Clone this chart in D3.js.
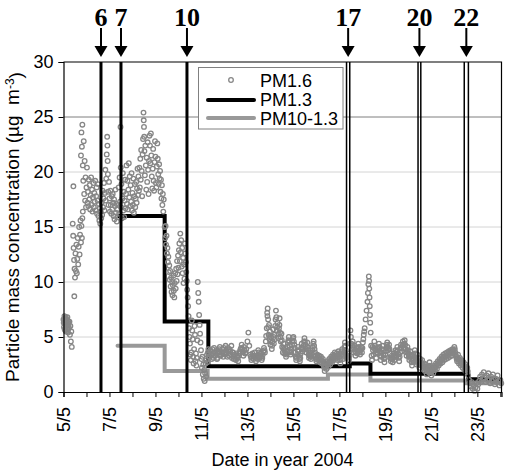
<!DOCTYPE html>
<html><head><meta charset="utf-8">
<script src="https://cdn.jsdelivr.net/npm/d3@7"></script>
<style>body{margin:0;background:#fff}svg{display:block}text{font-family:"Liberation Sans",Arial,sans-serif;fill:#000}</style>
</head><body><svg id="c" width="506" height="473"></svg>
<script>
// ---- data ----
const yTicks = [0,5,10,15,20,25,30];
const xMinorTicks = [5,6,7,8,9,10,11,12,13,14,15,16,17,18,19,20,21,22,23,24];
const xTickDays = [5,7,9,11,13,15,17,19,21,23];
const xTickLabels = ["5/5","7/5","9/5","11/5","13/5","15/5","17/5","19/5","21/5","23/5"];
const eventLabels = ["6","7","10","17","20","22"];
const eventDays = [[6.63],[7.50],[10.37],[17.31,17.45],[20.42,20.54],[22.43,22.61]];
const pm13Days = [7.35,9.40,11.30,17.45,18.35,22.60,24.05];
const pm13Vals = [16,6.4,2.35,2.6,1.65,1.15,1.15];
const pm101Days = [7.35,9.40,11.27,16.50,18.35,22.55,24.05];
const pm101Vals = [4.2,1.9,1.2,1.6,1.05,0.8,0.8];
const pm16 = [
[5.00,6.6],[5.02,5.9],[5.04,6.9],[5.06,6.2],[5.08,5.6],[5.10,6.8],[5.12,6.0],[5.14,6.5],[5.16,5.7],[5.18,6.3],[5.20,5.4],[5.22,6.1],[5.24,5.8],[5.26,6.4],[5.28,5.2],[5.30,6.0],[5.32,4.6],[5.34,5.5],[5.36,4.1],
[5.01,6.3],[5.03,6.5],[5.05,5.7],[5.07,6.7],[5.09,6.1],[5.11,5.5],[5.13,6.6],[5.15,6.0],[5.17,6.8],[5.19,5.9],[5.21,6.4],
[5.40,15.3],[5.42,14.2],[5.43,18.7],[5.44,13.1],[5.46,12.0],[5.47,8.7],[5.48,11.2],[5.50,10.4],[5.52,12.6],[5.54,11.0],[5.56,13.4],[5.58,10.8],[5.60,12.1],[5.62,14.0],[5.64,11.6],[5.66,13.2],[5.68,15.0],[5.70,12.5],[5.72,14.3],[5.74,15.6],[5.76,13.6],[5.78,15.1],[5.80,14.0],[5.82,15.8],[5.84,16.4],
[5.76,21.5],[5.78,23.6],[5.80,22.3],[5.82,24.3],[5.84,20.6],[5.86,19.2],[5.88,22.8],[5.90,18.0],[5.92,21.0],[5.94,17.4],[5.96,19.5],[5.98,16.8],[6.00,18.6],[6.02,20.4],[6.04,17.2],
[6.06,18.2],[6.08,16.9],[6.10,19.3],[6.12,17.5],[6.14,18.8],[6.16,16.6],[6.18,17.9],[6.20,19.5],[6.22,17.0],[6.24,18.4],[6.26,16.4],[6.28,17.7],[6.30,19.0],[6.32,16.8],[6.34,18.1],[6.36,17.3],[6.38,19.2],[6.40,16.5],[6.42,17.8],[6.44,18.6],[6.46,16.2],[6.48,17.4],[6.50,18.9],[6.52,16.0],[6.54,17.1],[6.56,15.6],[6.58,16.7],[6.60,15.3],[6.62,16.4],[6.64,15.8],
[6.66,17.2],[6.68,16.1],[6.70,18.3],[6.72,16.8],[6.74,17.6],[6.76,19.0],[6.78,16.5],[6.80,18.1],[6.82,20.2],[6.84,17.4],[6.86,19.4],[6.88,21.6],[6.90,23.2],[6.91,22.4],[6.92,21.0],[6.93,19.8],[6.94,18.2],[6.96,17.0],[6.98,19.1],
[7.00,17.6],[7.02,16.4],[7.04,18.3],[7.06,17.0],[7.08,16.2],[7.10,17.8],[7.12,16.6],[7.14,18.0],[7.16,17.2],[7.18,16.0],[7.20,17.5],[7.22,15.7],[7.24,16.9],[7.26,18.4],[7.28,16.3],[7.30,17.1],[7.32,15.5],[7.34,16.6],[7.36,15.9],[7.38,17.0],
[7.40,18.6],[7.42,16.2],[7.44,19.5],[7.46,17.3],[7.48,24.1],[7.49,20.4],[7.50,16.8],[7.52,18.9],[7.54,15.8],[7.56,17.6],[7.58,19.9],[7.60,16.5],[7.62,18.2],[7.64,15.9],[7.66,17.4],[7.68,19.3],[7.70,16.7],[7.72,18.0],[7.74,20.6],
[7.76,17.1],[7.78,19.2],[7.80,16.6],[7.82,18.4],[7.84,20.8],[7.86,17.7],[7.88,19.6],[7.90,16.9],[7.92,18.8],[7.94,17.3],[7.96,19.9],[7.98,16.5],[8.00,18.1],[8.02,17.0],[8.04,19.4],[8.06,16.3],[8.08,17.8],[8.10,18.9],[8.12,16.8],[8.14,17.6],[8.16,19.1],[8.18,17.2],[8.20,18.5],[8.22,20.3],[8.24,17.9],[8.26,19.6],[8.28,18.3],
[8.30,20.4],[8.32,18.6],[8.34,21.2],[8.36,19.3],[8.38,22.0],[8.40,20.1],[8.42,17.8],[8.44,21.6],[8.46,23.0],[8.48,25.4],[8.49,24.7],[8.50,24.1],[8.51,23.2],[8.52,21.9],[8.54,19.7],[8.56,22.4],[8.58,20.6],[8.60,18.4],[8.62,21.3],[8.64,19.1],[8.66,22.7],[8.68,20.2],[8.70,18.0],[8.72,21.0],[8.74,23.3],
[8.76,22.4],[8.78,20.8],[8.80,23.5],[8.82,21.5],[8.84,19.6],[8.86,18.5],[8.88,20.3],[8.90,22.1],[8.92,19.2],[8.94,18.3],[8.96,20.9],[8.98,22.8],[9.00,21.4],[9.02,19.0],[9.04,18.6],[9.06,20.5],[9.08,22.6],[9.10,21.2],[9.12,19.8],[9.14,18.9],[9.16,20.7],[9.18,19.4],
[9.20,20.1],[9.22,18.2],[9.24,19.3],[9.26,17.6],[9.28,18.8],[9.30,17.0],[9.32,18.0],[9.34,16.4],[9.36,17.5],[9.40,15.0],[9.42,14.0],
[9.44,15.1],[9.46,13.4],[9.48,14.2],[9.50,12.6],[9.52,13.1],[9.54,11.8],[9.56,12.3],[9.58,10.9],[9.60,11.5],[9.62,10.2],
[9.64,11.0],[9.66,9.6],[9.68,10.4],[9.70,9.1],[9.72,10.0],[9.74,8.8],[9.76,9.7],[9.78,10.6],[9.80,9.2],[9.82,8.6],[9.84,9.9],[9.86,10.8],[9.88,9.4],[9.90,11.2],[9.92,10.1],[9.94,11.9],[9.96,10.7],[9.98,12.4],[10.00,11.3],[10.02,12.9],
[10.04,13.5],[10.06,11.9],[10.08,14.4],[10.10,12.7],[10.12,13.8],[10.14,11.4],[10.16,13.1],[10.18,10.8],[10.20,12.2],[10.22,9.9],[10.24,11.6],[10.26,10.3],
[10.28,13.5],[10.30,12.6],[10.32,11.8],[10.34,10.9],[10.36,10.1],[10.38,9.3],[10.40,8.6],
[10.42,7.8],[10.44,6.9],[10.46,5.8],[10.48,5.0],[10.50,4.4],[10.52,3.4],[10.54,2.9],[10.56,3.6],[10.58,6.5],[10.60,5.6],[10.62,4.8],[10.64,3.2],[10.66,2.6],[10.68,3.9],[10.70,6.0],[10.72,5.2],[10.74,2.8],[10.76,3.5],[10.78,2.4],[10.80,3.1],[10.82,4.7],[10.84,10.0],[10.86,9.0],[10.88,8.2],[10.90,7.0],[10.92,6.1],[10.94,5.3],[10.96,4.5],[10.98,3.8],[11.00,3.0],
[11.02,2.2],[11.04,3.2],[11.06,1.6],[11.08,2.5],[11.10,1.2],[11.12,2.0],[11.14,1.0],[11.16,1.7],[11.18,2.6],[11.20,1.4],[11.22,2.9],[11.24,3.4],[11.26,2.7],[11.28,3.6],
[11.30,3.9],[11.35,3.2],[11.40,3.7],[11.45,3.0],[11.50,3.5],[11.55,4.0],[11.60,3.3],[11.65,3.8],[11.70,3.1],[11.75,3.6],[11.80,4.1],[11.85,3.4],[11.90,3.9],[11.95,3.2],[12.00,3.6],[12.05,4.2],[12.10,3.5],[12.15,4.0],[12.20,3.3],[12.25,3.7],[12.30,4.2],[12.35,3.6],[12.40,3.0],[12.45,3.4],[12.50,2.9],[12.55,3.3],[12.60,2.8],[12.65,3.5],[12.70,3.9],[12.75,4.3],[12.80,3.6],[12.85,4.1],[12.90,3.5],
[11.325,3.4],[11.375,3.8],[11.425,3.3],[11.475,3.9],[11.525,3.1],[11.575,3.6],[11.625,3.5],[11.675,3.0],[11.725,3.7],[11.775,3.9],[11.825,3.3],[11.875,3.6],[11.925,3.5],[11.975,4.0],[12.025,3.4],[12.075,3.8],[12.125,3.2],[12.175,3.7],[12.225,3.9],[12.275,3.4],[12.325,3.1],[12.375,3.6],[12.425,3.2],[12.475,3.0],[12.525,3.5],[12.575,3.1],[12.625,3.3],[12.675,3.7],[12.725,4.0],[12.775,3.9],[12.825,3.3],[12.875,3.8],[12.925,3.6],
[12.95,3.9],[13.00,4.6],[13.04,5.4],[13.08,4.2],[13.12,3.4],[13.17,2.9],[13.22,3.5],[13.27,3.0],[13.32,3.6],[13.37,2.8],[13.42,3.3],[13.47,3.8],[13.52,3.1],[13.57,3.5],[13.62,2.9],[13.67,3.4],[13.72,4.0],[13.76,3.6],[13.80,4.6],[13.84,5.8],[13.86,7.2],[13.88,7.6],[13.90,6.6],[13.92,5.2],[13.94,6.1],[13.96,4.8],[13.98,5.5],[14.00,4.3],[14.03,5.0],[14.06,3.9],[14.09,4.6],[14.12,5.7],[14.15,4.4],[14.18,5.2],[14.21,6.0],[14.24,7.4],[14.26,6.8],[14.28,5.6],[14.31,6.3],[14.34,4.9],[14.37,5.8],[14.40,6.7],[14.42,5.4],[14.45,4.6],[14.48,5.3],[14.51,4.1],[14.54,3.6],[14.57,4.4],[14.60,3.5],
[13.145,3.2],[13.195,3.1],[13.245,3.3],[13.295,3.3],[13.345,3.2],[13.395,3.1],[13.445,3.0],[13.495,3.6],[13.545,3.3],[13.595,3.2],[13.645,3.1],[13.695,3.7],[13.745,3.8],
[13.815,5.1],[13.87,6.9],[13.91,5.9],[13.97,5.0],[14.015,4.6],[14.075,4.2],[14.135,5.0],[14.195,4.8],[14.225,6.6],[14.295,5.9],[14.355,5.3],[14.39,6.1],[14.435,5.0],[14.495,4.7],[14.555,4.0],[14.585,3.9],
[14.64,4.0],[14.68,3.2],[14.72,3.7],[14.76,4.5],[14.80,5.0],[14.84,4.2],[14.88,3.4],[14.92,3.9],[14.96,4.7],[15.00,5.0],[15.04,4.3],[15.08,3.6],[15.12,2.9],[15.16,3.4],[15.20,4.1],[15.24,3.3],[15.28,2.8],[15.32,3.5],[15.36,4.4],[15.40,3.7],
[15.44,4.2],[15.48,4.9],[15.52,4.3],[15.56,3.6],[15.60,4.5],[15.64,3.8],[15.68,3.1],[15.72,3.6],[15.76,3.0],[15.80,3.5],[15.84,4.1],[15.88,4.6],[15.92,3.9],[15.96,3.3],[16.00,2.8],[16.04,3.4],[16.08,2.9],[16.12,3.3],[16.16,2.7],[16.20,3.2],[16.24,2.6],[16.28,3.0],
[16.32,2.4],[16.36,1.9],[16.40,2.6],[16.44,2.1],[16.48,2.8],[16.52,2.3],[16.56,3.0],[16.60,2.5],[16.64,3.2],[16.68,2.7],[16.72,3.4],[16.76,2.9],[16.80,3.6],[16.84,3.1],
[16.88,3.5],[16.92,2.9],[16.96,3.7],[17.00,3.2],[17.04,2.6],[17.08,3.4],[17.12,3.9],[17.16,3.0],[17.20,3.6],[17.24,4.5],[17.28,3.8],[17.32,3.1],[17.36,3.5],[17.40,2.8],[17.44,3.3],[17.48,5.6],[17.50,5.0],[17.52,4.4],
[14.62,3.8],[14.66,3.5],[14.70,3.4],[14.74,4.1],[14.78,4.7],[14.82,4.6],[14.86,3.7],[14.90,3.6],[14.94,4.3],[14.98,4.9],[15.02,4.6],[15.06,4.0],[15.10,3.2],[15.14,3.1],[15.18,3.8],[15.22,3.7],[15.26,3.0],[15.30,3.1],[15.34,4.0],[15.38,4.0],[15.42,3.9],[15.46,4.6],[15.50,4.6],[15.54,3.9],[15.58,4.1],[15.62,4.1],[15.66,3.4],[15.70,3.3],[15.74,3.3],[15.78,3.2],[15.82,3.8],[15.86,4.4],[15.90,4.2],[15.94,3.6],[15.98,3.0],[16.02,3.1],[16.06,3.2],[16.10,3.1],[16.14,3.0],[16.18,2.9],[16.22,2.9],[16.26,2.8],[16.30,2.7],[16.34,2.2],[16.38,2.3],[16.42,2.3],[16.46,2.5],[16.50,2.5],[16.54,2.7],[16.58,2.8],[16.62,2.8],[16.66,3.0],[16.70,3.0],[16.74,3.2],[16.78,3.3],[16.82,3.3],[16.86,3.3],[16.90,3.2],[16.94,3.3],[16.98,3.5],[17.02,2.9],[17.06,3.0],[17.10,3.7],[17.14,3.5],[17.18,3.3],[17.22,4.1],[17.26,4.2],[17.30,3.4],[17.34,3.3],[17.38,3.2],[17.42,3.0],[17.46,4.4],
[17.54,3.9],[17.58,4.6],[17.62,3.6],[17.66,4.2],[17.70,3.3],[17.74,4.0],[17.78,3.5],[17.82,4.4],[17.86,3.8],[17.90,3.4],[17.94,4.1],[17.98,3.6],[18.02,4.5],[18.06,5.2],
[17.56,4.2],[17.60,3.9],[17.64,4.0],[17.68,3.7],[17.72,3.6],[17.76,3.8],[17.80,4.0],[17.84,4.1],[17.88,3.6],[17.92,3.8],[17.96,3.9],[18.00,4.0],[18.04,4.8],[18.08,5.5],
[18.10,5.8],[18.14,6.6],[18.18,7.4],[18.22,8.2],[18.24,9.0],[18.26,9.8],[18.28,10.5],[18.29,10.1],[18.30,9.4],[18.31,8.6],[18.32,7.8],[18.33,7.0],[18.34,6.3],[18.36,5.4],[18.38,4.2],[18.40,3.3],[18.42,2.9],
[18.44,4.1],[18.48,3.4],[18.52,4.6],[18.56,3.8],[18.60,3.1],[18.64,4.0],[18.68,3.5],[18.72,4.4],[18.76,3.7],[18.80,2.9],[18.84,3.6],[18.88,4.2],[18.92,3.3],[18.96,2.7],[19.00,3.4],[19.04,4.0],[19.08,4.5],[19.12,3.8],[19.16,4.3],[19.20,3.5],[19.24,2.8],[19.28,3.3],
[19.32,2.7],[19.36,3.5],[19.40,2.9],[19.44,3.8],[19.48,3.2],[19.52,4.1],[19.56,3.4],[19.60,2.8],[19.64,3.6],[19.68,4.3],[19.72,3.7],[19.76,4.6],[19.80,4.0],[19.84,4.7],[19.88,3.9],[19.92,3.3],[19.96,4.1],[20.00,3.5],
[20.04,2.9],[20.08,3.7],[20.12,3.0],[20.16,2.4],[20.20,3.3],[20.24,2.7],[20.28,3.8],[20.32,3.1],[20.36,2.5],[20.40,3.4],[20.44,2.8],[20.48,2.2],[20.52,3.0],[20.56,2.4],
[20.60,2.9],[20.64,2.2],[20.68,2.6],[20.72,1.9],[20.76,2.5],[20.80,1.6],[20.84,2.3],[20.88,1.8],[20.92,2.7],[20.96,2.0],[21.00,1.5],[21.04,2.2],[21.08,1.7],[21.12,2.4],[21.16,2.0],[21.20,2.6],[21.24,2.1],[21.28,2.8],
[21.32,2.4],[21.36,3.0],[21.40,2.6],[21.44,3.2],[21.48,2.7],[21.52,3.4],[21.56,2.9],[21.60,3.5],[21.64,3.0],[21.68,3.6],[21.72,3.1],[21.76,3.7],[21.80,3.2],[21.84,3.8],[21.88,3.3],[21.92,3.9],[21.96,3.5],[22.00,4.1],[22.04,3.6],[22.08,3.2],
[22.12,2.8],[22.16,3.4],[22.20,2.6],[22.24,3.1],[22.28,2.4],[22.32,2.9],[22.36,2.2],[22.40,2.7],[22.44,2.0],[22.48,2.5],[22.52,1.8],[22.56,2.2],
[18.46,3.8],[18.50,4.0],[18.54,4.2],[18.58,3.5],[18.62,3.6],[18.66,3.8],[18.70,3.9],[18.74,4.1],[18.78,3.3],[18.82,3.2],[18.86,3.9],[18.90,3.8],[18.94,3.0],[18.98,3.1],[19.02,3.7],[19.06,4.3],[19.10,4.1],[19.14,4.0],[19.18,3.9],[19.22,3.1],[19.26,3.0],[19.30,3.0],
[19.34,3.1],[19.38,3.2],[19.42,3.3],[19.46,3.5],[19.50,3.7],[19.54,3.8],[19.58,3.1],[19.62,3.2],[19.66,4.0],[19.70,4.0],[19.74,4.2],[19.78,4.3],[19.82,4.4],[19.86,4.3],[19.90,3.6],[19.94,3.7],[19.98,3.8],
[20.02,3.2],[20.06,3.3],[20.10,3.4],[20.14,2.7],[20.18,2.9],[20.22,3.0],[20.26,3.2],[20.30,3.5],[20.34,2.8],[20.38,2.9],[20.42,3.1],[20.46,2.5],[20.50,2.6],[20.54,2.7],[20.58,2.6],
[20.62,2.5],[20.66,2.4],[20.70,2.3],[20.74,2.2],[20.78,2.0],[20.82,1.9],[20.86,2.1],[20.90,2.2],[20.94,2.4],[20.98,1.8],[21.02,1.9],[21.06,2.0],[21.10,2.0],[21.14,2.2],[21.18,2.3],[21.22,2.4],[21.26,2.5],[21.30,2.6],
[21.34,2.7],[21.38,2.8],[21.42,2.9],[21.46,3.0],[21.50,3.0],[21.54,3.2],[21.58,3.2],[21.62,3.3],[21.66,3.3],[21.70,3.4],[21.74,3.4],[21.78,3.5],[21.82,3.5],[21.86,3.6],[21.90,3.6],[21.94,3.7],[21.98,3.8],[22.02,3.9],[22.06,3.4],[22.10,3.0],
[22.14,3.1],[22.18,3.0],[22.22,2.9],[22.26,2.8],[22.30,2.6],[22.34,2.6],[22.38,2.5],[22.42,2.4],[22.46,2.3],[22.50,2.2],[22.54,2.0],[22.58,1.9],
[22.60,1.5],[22.64,1.1],[22.68,0.8],[22.72,0.5],[22.76,0.9],[22.80,0.3],[22.84,0.6],[22.88,0.1],[22.92,0.4],[22.96,0.8],[23.00,0.3],[23.04,0.7],[23.08,1.0],
[23.12,1.4],[23.16,0.9],[23.20,1.6],[23.24,1.2],[23.28,1.8],[23.32,1.3],[23.36,0.9],[23.40,1.5],[23.44,1.1],[23.48,1.7],[23.52,1.2],[23.56,0.8],[23.60,1.4],[23.64,1.0],[23.68,1.6],[23.72,1.1],[23.76,0.7],[23.80,1.2],[23.84,0.9],[23.88,1.5],[23.92,1.0],[23.96,0.6],[24.00,1.1],[24.04,0.8]
];
const legendLabels = ["PM1.6","PM1.3","PM10-1.3"];

// ---- drawing ----
const svg = d3.select("#c");
const L = 63.5, R = 501.5, T = 62, B = 392;
const x = d3.scaleLinear().domain([5, 24.05]).range([L, R]);
const y = d3.scaleLinear().domain([0, 30]).range([B, T]);

// gridlines
svg.append("g").selectAll("line").data(yTicks.filter(v => v > 0 && v < 30)).join("line")
  .attr("x1", L).attr("x2", R).attr("y1", d => y(d)).attr("y2", d => y(d))
  .attr("stroke", d => d === 25 ? "#7f7f7f" : "#d4d4d4").attr("stroke-width", 1);

// step lines
const stepLine = d3.line().x(d => x(d[0])).y(d => y(d[1])).curve(d3.curveStepAfter);
svg.append("path").datum(pm101Days.map((d, i) => [d, pm101Vals[i]]))
  .attr("d", stepLine).attr("fill", "none").attr("stroke", "#999").attr("stroke-width", 4).attr("stroke-linecap", "round");
svg.append("path").datum(pm13Days.map((d, i) => [d, pm13Vals[i]]))
  .attr("d", stepLine).attr("fill", "none").attr("stroke", "#000").attr("stroke-width", 4).attr("stroke-linecap", "butt");

// scatter
svg.append("g").selectAll("circle").data(pm16).join("circle")
  .attr("cx", d => x(d[0])).attr("cy", d => y(d[1])).attr("r", 2.3)
  .attr("fill", "none").attr("stroke", "#868686").attr("stroke-width", 1.3);

// frame (top, right)
svg.append("path").attr("d", `M${L},${T}H${R}V${B}`).attr("fill", "none").attr("stroke", "#000").attr("stroke-width", 1.2);

// event lines
const evG = svg.append("g");
eventDays.forEach(arr => {
  const w = arr.length === 1 ? 3 : 1.5;
  arr.forEach(d => {
    evG.append("line").attr("x1", x(d)).attr("x2", x(d)).attr("y1", T).attr("y2", B)
      .attr("stroke", "#000").attr("stroke-width", w);
  });
});

// arrows and labels
eventDays.forEach((arr, i) => {
  const cx = x(d3.mean(arr));
  svg.append("line").attr("x1", cx).attr("x2", cx).attr("y1", 28).attr("y2", 48)
    .attr("stroke", "#000").attr("stroke-width", 2);
  svg.append("path").attr("d", `M${cx - 6.5},46L${cx + 6.5},46L${cx},57Z`).attr("fill", "#000");
  svg.append("text").attr("x", cx).attr("y", 25.5).attr("text-anchor", "middle")
    .style("font-family", '"Liberation Serif","Times New Roman",serif')
    .style("font-weight", "bold").style("font-size", "26px").text(eventLabels[i]);
});

// y axis
const yAxis = svg.append("g").attr("transform", `translate(${L},0)`)
  .call(d3.axisLeft(y).tickValues(yTicks).tickSize(5).tickPadding(5));
yAxis.select(".domain").attr("stroke", "#000").attr("stroke-width", 1.2);
yAxis.selectAll("text").style("font-size", "18px").style("font-family", '"Liberation Sans",Arial,sans-serif');

// x axis
const xAxisG = svg.append("g").attr("transform", `translate(0,${B})`);
xAxisG.call(d3.axisBottom(x).tickValues(xMinorTicks).tickSize(5).tickFormat(""));
xAxisG.select(".domain").attr("stroke", "#000").attr("stroke-width", 1.2);
svg.append("g").selectAll("text").data(xTickDays).join("text")
  .attr("transform", d => `translate(${x(d)},${B + 15}) rotate(-90)`)
  .attr("text-anchor", "end").attr("dy", "0.35em")
  .style("font-size", "18px").text((d, i) => xTickLabels[i]);

// axis titles
svg.append("text").attr("x", (L + R) / 2).attr("y", 466).attr("text-anchor", "middle")
  .style("font-size", "18px").text("Date in year 2004");
const yt = svg.append("text").attr("transform", `translate(19,${(T + B) / 2}) rotate(-90)`)
  .attr("text-anchor", "middle").style("font-size", "19px");
yt.append("tspan").text("Particle mass concentration (\u00b5g\u00a0\u00a0m");
yt.append("tspan").attr("dy", "-0.45em").style("font-size", "12px").text("-3");
yt.append("tspan").attr("dy", "0.45em").text(")");

// legend
const lg = svg.append("g");
lg.append("rect").attr("x", 198.5).attr("y", 67.5).attr("width", 144.5).attr("height", 61.5)
  .attr("fill", "#fff").attr("stroke", "#808080").attr("stroke-width", 1);
lg.append("circle").attr("cx", 231).attr("cy", 80).attr("r", 2.3).attr("fill", "none").attr("stroke", "#868686").attr("stroke-width", 1.3);
lg.append("line").attr("x1", 208).attr("x2", 254).attr("y1", 100).attr("y2", 100).attr("stroke", "#000").attr("stroke-width", 4).attr("stroke-linecap", "round");
lg.append("line").attr("x1", 208).attr("x2", 254).attr("y1", 118).attr("y2", 118).attr("stroke", "#999").attr("stroke-width", 4).attr("stroke-linecap", "round");
lg.selectAll("text.l").data(legendLabels).join("text").attr("class", "l")
  .attr("x", 260).attr("y", (d, i) => 86.5 + i * 19.2).style("font-size", "18px").text(d => d);
</script></body></html>
